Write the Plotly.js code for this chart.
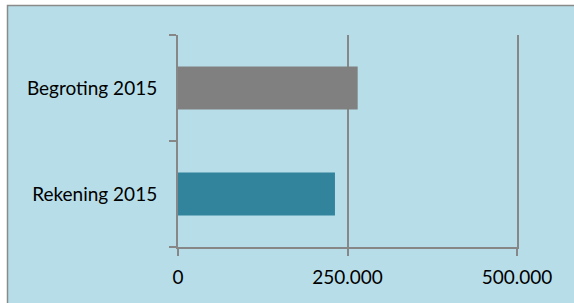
<!DOCTYPE html>
<html>
<head>
<meta charset="utf-8">
<script src="https://cdn.plot.ly/plotly-3.0.1.min.js"></script>
<style>html,body{margin:0;padding:0;background:#fff;}#chart{width:574px;height:303px;}</style>
</head>
<body>
<div id="chart"></div>
<script>
const categories = ['Rekening 2015', 'Begroting 2015'];
const values = [231500, 265000];
const barColors = ['#31849B', '#808080'];
const xTickVals = [0, 250000, 500000];

const W = 574, H = 303;
const M = {l: 178, r: 57, t: 35, b: 56};
const pw = W - M.l - M.r, ph = H - M.t - M.b;
const px = x => (x - M.l) / pw;
const py = y => 1 - (y - M.t) / ph;

const trace = {
  type: 'bar',
  orientation: 'h',
  y: categories,
  x: values,
  marker: {color: barColors, line: {width: 0}},
  hoverinfo: 'none'
};

const layout = {
  width: W, height: H,
  margin: M,
  paper_bgcolor: '#ffffff',
  plot_bgcolor: 'rgba(0,0,0,0)',
  separators: ',.',
  showlegend: false,
  bargap: 0.594,
  font: {family: 'Lato, "Open Sans", sans-serif', size: 19, color: '#000000'},
  xaxis: {
    range: [0, 500000],
    tickvals: xTickVals,
    tickformat: ',d',
    showgrid: true, gridcolor: '#878787', gridwidth: 2,
    zeroline: false,
    showline: true, linecolor: '#878787', linewidth: 2,
    ticks: 'outside', ticklen: 7, tickwidth: 2, tickcolor: '#878787',
    ticklabelstandoff: 5,
    fixedrange: true
  },
  yaxis: {
    type: 'category',
    categoryorder: 'array', categoryarray: categories,
    range: [-0.5, 1.5],
    showgrid: false, zeroline: false,
    showline: true, mirror: true, linecolor: '#878787', linewidth: 2,
    ticks: 'outside', tickson: 'boundaries', ticklen: 7, tickwidth: 2, tickcolor: '#878787',
    ticklabelstandoff: 15,
    fixedrange: true
  },
  shapes: [
    {type: 'rect', xref: 'paper', yref: 'paper', layer: 'below',
     x0: px(7.5), x1: px(590), y0: py(5.5), y1: py(320),
     fillcolor: '#B7DEE8', line: {color: '#8A8A8A', width: 1.5}}
  ]
};

Plotly.newPlot('chart', [trace], layout, {displayModeBar: false, staticPlot: true});
</script>
</body>
</html>
